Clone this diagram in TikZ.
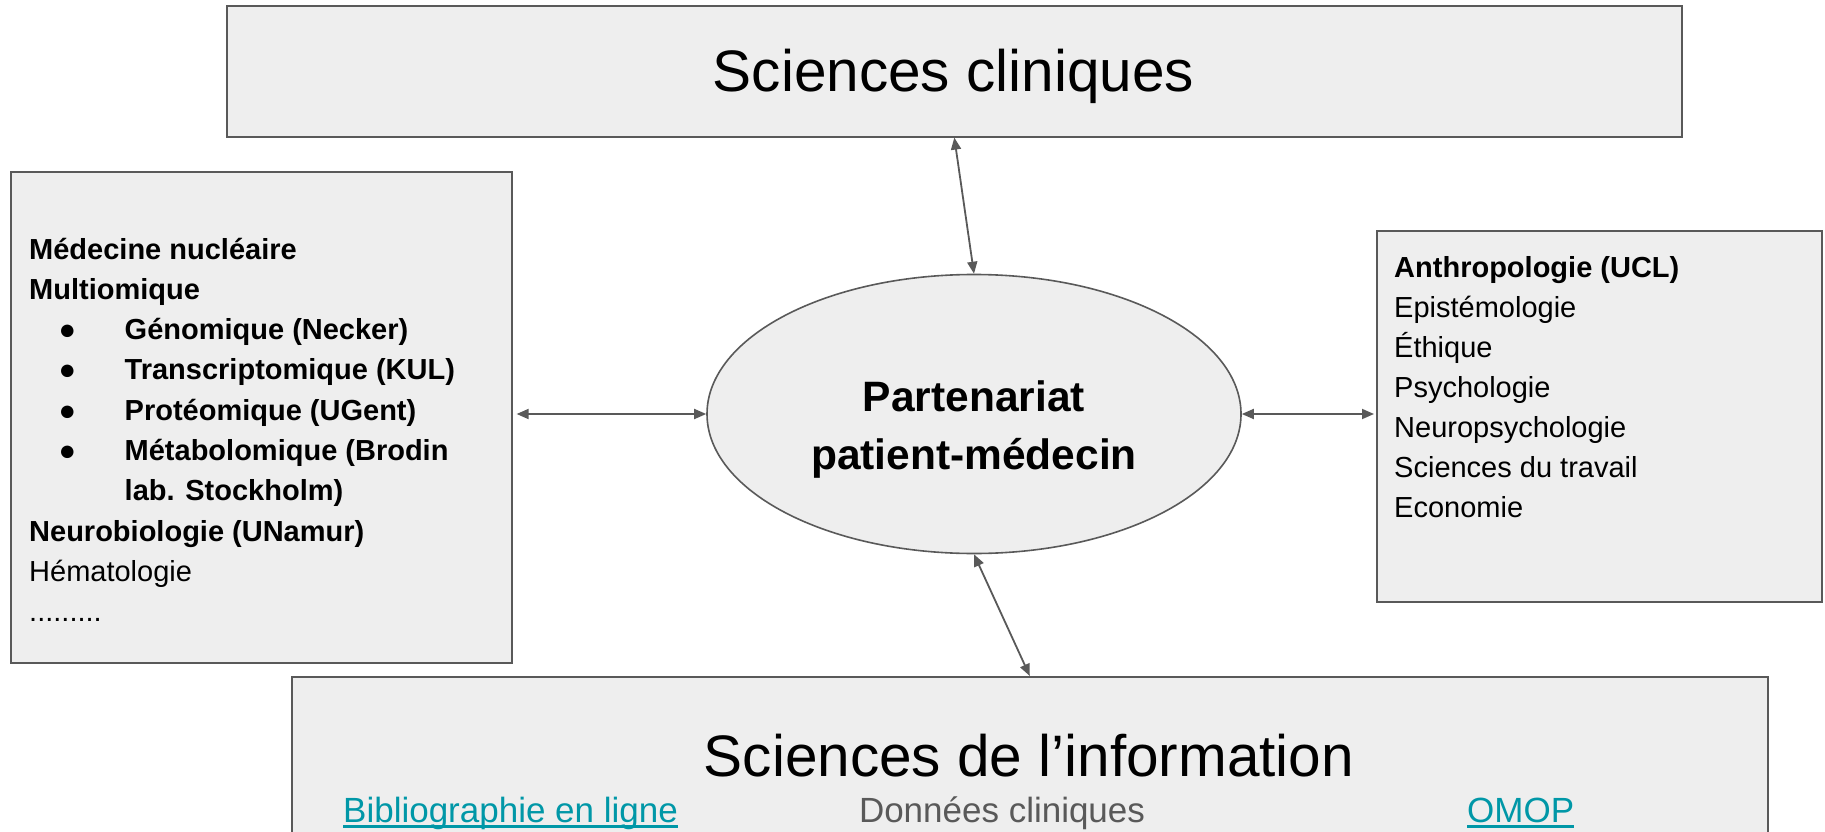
\documentclass[tikz,border=0pt]{standalone}
\usepackage{fontspec}
\setmainfont{Liberation Sans}
\usetikzlibrary{arrows.meta,calc,shapes.geometric}
\definecolor{boxfill}{HTML}{EEEEEE}
\definecolor{edgegrey}{HTML}{595959}
\definecolor{linkteal}{HTML}{0097A7}
\definecolor{textgrey}{HTML}{595959}
\begin{document}
\begin{tikzpicture}[x=1pt,y=-1pt,
  panel/.style={draw=edgegrey, line width=1.6pt, fill=boxfill, inner sep=0pt, anchor=north west},
  conn/.style={draw=edgegrey, line width=1.8pt, {Triangle[length=12pt,width=10pt]}-{Triangle[length=12pt,width=10pt]}},
  txt/.style={inner sep=0pt, anchor=base west, font=\fontsize{29}{35}\selectfont},
  btxt/.style={txt, font=\fontsize{29}{35}\selectfont\bfseries},
  title/.style={inner sep=0pt, anchor=base, font=\fontsize{58.5}{70}\selectfont},
  sub/.style={inner sep=0pt, anchor=base west, font=\fontsize{35}{42}\selectfont},
  uline/.style={draw=linkteal, line width=2.4pt},
]
\useasboundingbox (0,0) rectangle (1825,832);
\clip (0,0) rectangle (1825,832);

% boxes
\node[panel, minimum width=1455pt, minimum height=131pt] (T) at (226,5) {};
\node[panel, minimum width=501pt, minimum height=491pt] (L) at (10,171) {};
\node[panel, minimum width=445pt, minimum height=371pt] (R) at (1376,230) {};
\node[panel, minimum width=1476pt, minimum height=260pt] (B) at (291,676) {};
\node[draw=edgegrey, line width=1.6pt, fill=boxfill, ellipse, inner sep=0pt,
      minimum width=534pt, minimum height=279pt] (E) at (974,414) {};

% titles
\node[title] (Tt) at (953.5,92) {Sciences cliniques};
\node[title] (Bt) at (1029,776) {Sciences de l’information};

% ellipse text
\node[inner sep=0pt, anchor=base, font=\fontsize{42.5}{50}\selectfont\bfseries] (E1) at (974,411) {Partenariat};
\node[inner sep=0pt, anchor=base, font=\fontsize{42.5}{50}\selectfont\bfseries] (E2) at (974,469) {patient-médecin};

% left box text
\node[btxt] (l1) at (29,259) {Médecine nucléaire};
\node[btxt] (l2) at (29,299.3) {Multiomique};
\node[btxt, anchor=base] (b1) at (67.5,339.6) {●};
\node[btxt] (l3) at (124.5,339.6) {Génomique (Necker)};
\node[btxt, anchor=base] (b2) at (67.5,379.9) {●};
\node[btxt] (l4) at (124.5,379.9) {Transcriptomique (KUL)};
\node[btxt, anchor=base] (b3) at (67.5,420.2) {●};
\node[btxt] (l5) at (124.5,420.2) {Protéomique (UGent)};
\node[btxt, anchor=base] (b4) at (67.5,460.5) {●};
\node[btxt] (l6) at (124.5,460.5) {Métabolomique (Brodin};
\node[btxt] (l7) at (124.5,500.8) {lab. Stockholm)};
\node[btxt] (l8) at (29,541.1) {Neurobiologie (UNamur)};
\node[txt] (l9) at (29,581.4) {Hématologie};
\node[txt] (l10) at (29,621.7) {.........};

% right box text
\node[btxt] (r1) at (1394,277) {Anthropologie (UCL)};
\node[txt] (r2) at (1394,317) {Epistémologie};
\node[txt] (r3) at (1394,357) {Éthique};
\node[txt] (r4) at (1394,397) {Psychologie};
\node[txt] (r5) at (1394,437) {Neuropsychologie};
\node[txt] (r6) at (1394,477) {Sciences du travail};
\node[txt] (r7) at (1394,517) {Economie};

% bottom row
\node[sub, text=linkteal] (bib) at (343,822) {Bibliographie en ligne};
\node[sub, text=textgrey, anchor=base] (don) at (1002,822) {Données cliniques};
\node[sub, text=linkteal] (omop) at (1467,822) {OMOP};
\draw[uline] ($(bib.base west)+(0,4.5)$) -- ($(bib.base east)+(0,4.5)$);
\draw[uline] ($(omop.base west)+(0,4.5)$) -- ($(omop.base east)+(0,4.5)$);

% connectors
\draw[conn] (T.south) -- (E.north);
\draw[conn] (E.south) -- (B.north);
\draw[conn, shorten >=4pt] (E.west) -- (L.east |- E.west);
\draw[conn, shorten >=2pt] (E.east) -- (R.west |- E.east);
\end{tikzpicture}
\end{document}
